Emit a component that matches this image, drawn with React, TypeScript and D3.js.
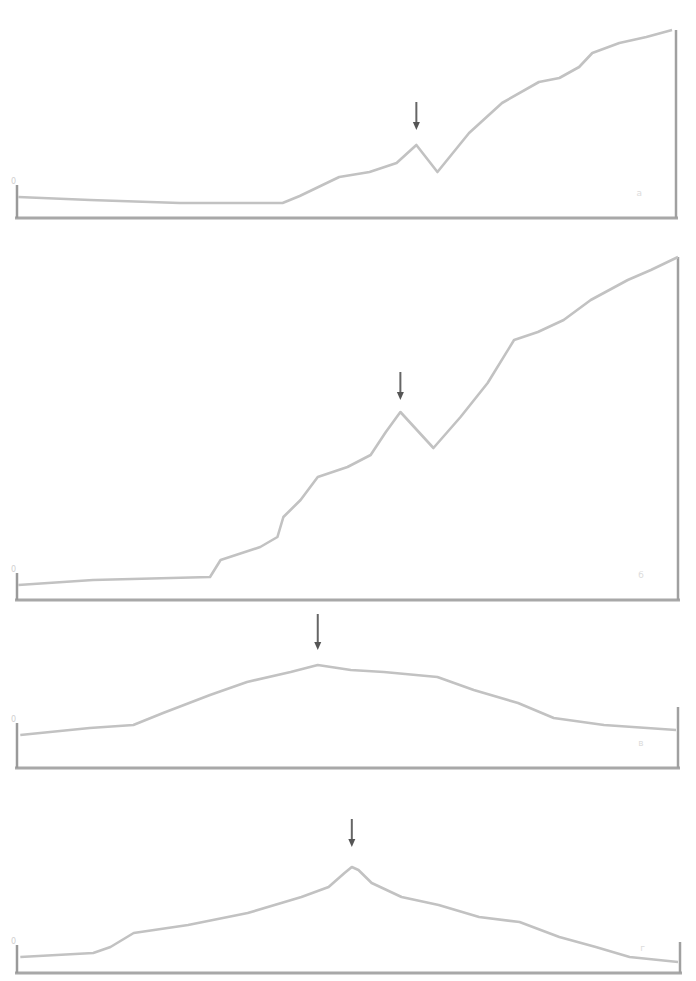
import React from "react";
import * as d3 from "d3";

// x positions (% of run) and signal heights for each trace
const xs1 = [0.2, 11.1, 24.7, 40.3, 42.9, 47, 48.9, 53.5, 57.6, 60.6, 63.8, 68.6, 73.6, 79.2, 82.3, 85.3, 87.3, 91.4, 95.5, 99.4];
const ys1 = [21, 18, 15, 15, 22, 35, 41, 46, 55, 73, 46, 85, 115, 136, 140, 151, 165, 175, 181, 188];

const xs2 = [0.2, 11.5, 29.2, 30.8, 36.8, 39.4, 40.3, 42.9, 45.5, 50, 53.5, 55.8, 58, 63, 67.1, 71.2, 75.2, 78.8, 82.7, 86.8, 92.4, 95.9, 100];
const ys2 = [15, 20, 23, 40, 53, 63, 83, 100, 123, 133, 145, 168, 188, 152, 183, 217, 260, 268, 280, 300, 320, 330, 343];

const xs3 = [0.5, 11, 17.6, 22.1, 29.2, 34.8, 41.4, 45.5, 50.5, 55.5, 63.6, 69.1, 75.8, 81.2, 88.8, 99.7];
const ys3 = [33, 40, 43, 55, 73, 86, 96, 103, 98, 96, 91, 78, 65, 50, 43, 38];

const xs4 = [0.5, 11.5, 14.1, 17.6, 25.8, 34.8, 42.9, 47, 49.4, 50.5, 51.5, 53.5, 58, 63.6, 69.7, 75.8, 81.8, 87.3, 92.4, 99.7];
const ys4 = [16, 20, 26, 40, 48, 60, 76, 86, 100, 106, 103, 90, 76, 68, 56, 51, 36, 26, 16, 11];

const panelXs = [xs1, xs2, xs3, xs4];
const panelYs = [ys1, ys2, ys3, ys4];
const peakIndex = [9, 12, 7, 9];
const rightHeights = [188, 343, 61, 31];
const leftLabels = ["0", "0", "0", "0"];
const rightLabels = ["a", "б", "в", "г"];

// layout
const layout = [
  { base: 218, x0: 17, x1: 676, arrowGap: 15, arrowLen: 28 },
  { base: 600, x0: 17, x1: 678, arrowGap: 12, arrowLen: 28 },
  { base: 768, x0: 17, x1: 678, arrowGap: 15, arrowLen: 36 },
  { base: 973, x0: 17, x1: 680, arrowGap: 20, arrowLen: 28 },
];

export default function App() {
  return (
    <svg
      width={696}
      height={981}
      style={{ position: "absolute", left: 0, top: 0, background: "#fff" }}
      fontFamily="DejaVu Sans"
    >
      {layout.map((L, p) => {
        const x = d3.scaleLinear().domain([0, 100]).range([L.x0, L.x1]);
        const y = d3.scaleLinear().domain([0, 100]).range([L.base, L.base - 100]);
        const pts = panelXs[p].map((v, i) => [v, panelYs[p][i]] as [number, number]);
        const line = d3
          .line<[number, number]>()
          .x((d) => x(d[0]))
          .y((d) => y(d[1]))
          .curve(d3.curveLinear);
        const pk = pts[peakIndex[p]];
        const ax = x(pk[0]);
        const ayEnd = y(pk[1]) - L.arrowGap;
        const ayStart = ayEnd - L.arrowLen;
        const rightTop = y(rightHeights[p]);
        return (
          <g key={p}>
            {/* bottom axis */}
            <line x1={x(-0.3)} x2={x(100.3)} y1={L.base} y2={L.base} stroke="#a8a8a8" strokeWidth={3} />
            {/* left short bar */}
            <line x1={x(0)} x2={x(0)} y1={L.base} y2={y(pts[0][1] + 12)} stroke="#9a9a9a" strokeWidth={2.5} />
            {/* right bar */}
            <line x1={x(100)} x2={x(100)} y1={L.base} y2={rightTop} stroke="#a0a0a0" strokeWidth={2.5} />
            {/* trace */}
            <path d={line(pts) || ""} fill="none" stroke="#c2c2c2" strokeWidth={2.6} strokeLinejoin="round" />
            {/* arrow */}
            <line x1={ax} x2={ax} y1={ayStart} y2={ayEnd - 6} stroke="#666" strokeWidth={2} />
            <path d={`M${ax - 3.5},${ayEnd - 8} L${ax + 3.5},${ayEnd - 8} L${ax},${ayEnd} Z`} fill="#555" />
            {/* labels */}
            <text x={x(0) - 6} y={y(pts[0][1] + 13)} fontSize={8} fill="#d0d0d0">
              {leftLabels[p]}
            </text>
            <text x={x(94)} y={L.base - 22} fontSize={9} fill="#dcdcdc">
              {rightLabels[p]}
            </text>
          </g>
        );
      })}
    </svg>
  );
}
